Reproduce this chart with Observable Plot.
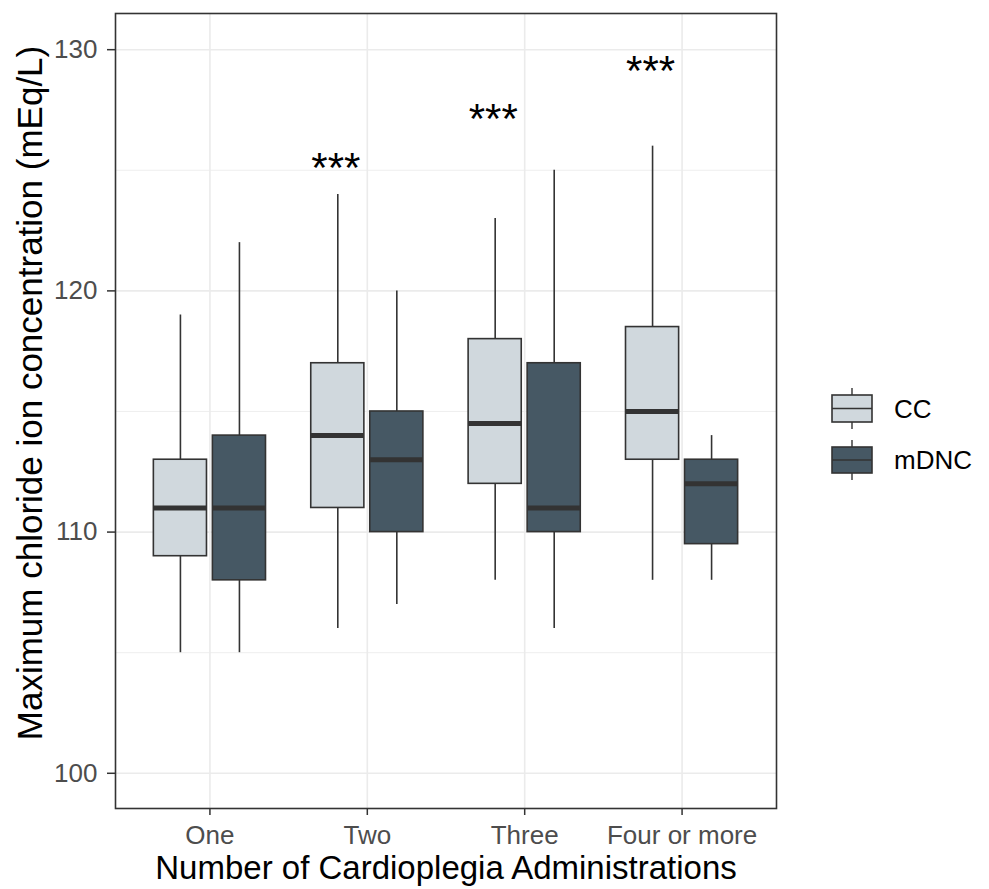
<!DOCTYPE html>
<html>
<head>
<meta charset="utf-8">
<script src="https://cdn.jsdelivr.net/npm/d3@7"></script>
<script src="https://cdn.jsdelivr.net/npm/@observablehq/plot@0.6"></script>
<style>
  html, body { margin: 0; padding: 0; background: #fff; }
  #wrap { position: relative; width: 989px; height: 889px; font-family: "Liberation Sans", Arial, Helvetica, sans-serif; }
  #legend { position: absolute; left: 0; top: 0; }
</style>
</head>
<body>
<div id="wrap"></div>
<script>
// ---- Data ----
const categories = ["One", "Two", "Three", "Four or more"];
const groups = ["CC", "mDNC"];
const groupColors = ["#D0D8DD", "#465864"];

const ccMin    = [105, 106, 108, 108];
const ccQ1     = [109, 111, 112, 113];
const ccMedian = [111, 114, 114.5, 115];
const ccQ3     = [113, 117, 118, 118.5];
const ccMax    = [119, 124, 123, 126];

const mdncMin    = [105, 107, 106, 108];
const mdncQ1     = [108, 110, 110, 109.5];
const mdncMedian = [111, 113, 111, 112];
const mdncQ3     = [114, 115, 117, 113];
const mdncMax    = [122, 120, 125, 114];

const sigLabels = ["", "***", "***", "***"];
const sigY      = [null, 125, 127, 129];

const yTicks = [100, 110, 120, 130];
const yMinorTicks = [105, 115, 125];

// ---- Build table ----
const stats = {
  CC:   [ccMin, ccQ1, ccMedian, ccQ3, ccMax],
  mDNC: [mdncMin, mdncQ1, mdncMedian, mdncQ3, mdncMax]
};
const rows = [];
categories.forEach((cat, i) => {
  groups.forEach((g, gi) => {
    const s = stats[g];
    rows.push({cat, idx: i + 1, group: g, gi,
      min: s[0][i], q1: s[1][i], med: s[2][i], q3: s[3][i], max: s[4][i]});
  });
});
const dodge = 0.1875, halfW = 0.16875;
const pos = d => d.idx + (d.gi === 0 ? -dodge : dodge);
const sigRows = categories.map((c, i) => ({idx: i + 1, label: sigLabels[i], y: sigY[i]})).filter(d => d.label);

const color = d => groupColors[d.gi];

const chart = Plot.plot({
  width: 989,
  height: 889,
  marginTop: 13,
  marginBottom: 81,
  marginLeft: 115,
  marginRight: 213,
  style: {fontFamily: '"Liberation Sans", Arial, Helvetica, sans-serif', background: "#fff"},
  x: {type: "linear", domain: [0.4, 4.6]},
  y: {domain: [98.54, 131.5]},
  marks: [
    Plot.gridY(yMinorTicks, {stroke: "#ebebeb", strokeOpacity: 1, strokeWidth: 0.8}),
    Plot.gridY(yTicks, {stroke: "#ebebeb", strokeOpacity: 1, strokeWidth: 1.6}),
    Plot.gridX(categories.map((c, i) => i + 1), {stroke: "#ebebeb", strokeOpacity: 1, strokeWidth: 1.6}),
    Plot.ruleX(rows, {x: pos, y1: "min", y2: "q1", stroke: "#333", strokeWidth: 1.6}),
    Plot.ruleX(rows, {x: pos, y1: "q3", y2: "max", stroke: "#333", strokeWidth: 1.6}),
    Plot.rect(rows, {x1: d => pos(d) - halfW, x2: d => pos(d) + halfW, y1: "q1", y2: "q3",
      fill: color, stroke: "#333", strokeWidth: 1.6}),
    Plot.ruleY(rows, {y: "med", x1: d => pos(d) - halfW, x2: d => pos(d) + halfW, stroke: "#333", strokeWidth: 5}),
    Plot.text(sigRows, {x: d => d.idx - 0.2, y: "y", text: "label", fontSize: 42, fill: "#000",
      lineAnchor: "middle", dy: -2}),
    Plot.frame({stroke: "#333", strokeWidth: 1.6}),
    Plot.axisX({ticks: categories.map((c, i) => i + 1), tickFormat: v => categories[v - 1],
      tickSize: 7, tickPadding: 10, fontSize: 26, stroke: "#333", strokeWidth: 1.5, fill: "#4d4d4d", label: null}),
    Plot.axisY({ticks: yTicks, tickSize: 8, tickPadding: 10, fontSize: 26, stroke: "#333", strokeWidth: 1.5,
      fill: "#4d4d4d", label: null}),
    Plot.text(["Number of Cardioplegia Administrations"], {frameAnchor: "bottom", dy: 70,
      lineAnchor: "bottom", fontSize: 33, fill: "#000"}),
    Plot.text(["Maximum chloride ion concentration (mEq/L)"], {frameAnchor: "left", dx: -74, dy: -18, rotate: -90,
      textAnchor: "middle", lineAnchor: "bottom", fontSize: 35, fill: "#000"})
  ]
});

const wrap = document.getElementById("wrap");
wrap.appendChild(chart);

// ---- Legend ----
const leg = d3.select(wrap).append("svg")
  .attr("id", "legend").attr("width", 989).attr("height", 889)
  .style("pointer-events", "none");
const keyX = 832, keyW = 40;
const keyTop = [395, 447], keyBot = [422, 473];
groups.forEach((g, gi) => {
  const gEl = leg.append("g");
  const cx = keyX + keyW / 2;
  const mid = (keyTop[gi] + keyBot[gi]) / 2;
  gEl.append("line").attr("x1", cx).attr("x2", cx).attr("y1", keyTop[gi] - 7).attr("y2", keyBot[gi] + 7)
    .attr("stroke", "#333").attr("stroke-width", 1.4);
  gEl.append("rect").attr("x", keyX).attr("y", keyTop[gi]).attr("width", keyW).attr("height", keyBot[gi] - keyTop[gi])
    .attr("fill", groupColors[gi]).attr("stroke", "#333").attr("stroke-width", 1.6);
  gEl.append("line").attr("x1", keyX).attr("x2", keyX + keyW).attr("y1", mid).attr("y2", mid)
    .attr("stroke", "#333").attr("stroke-width", 1.6);
  gEl.append("text").attr("x", 894).attr("y", mid).attr("dy", "0.35em")
    .attr("font-size", 26).attr("fill", "#000")
    .attr("font-family", '"Liberation Sans", Arial, Helvetica, sans-serif')
    .text(g);
});
</script>
</body>
</html>
